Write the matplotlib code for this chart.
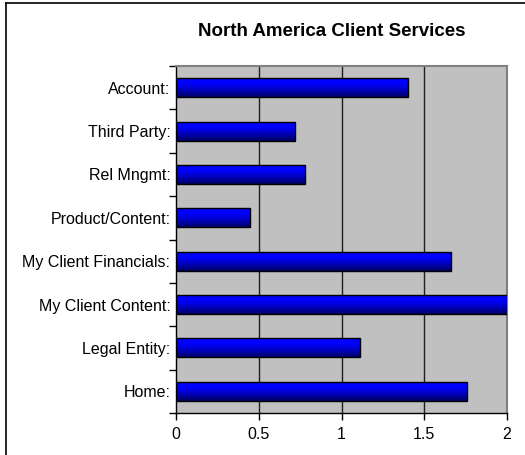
import matplotlib
matplotlib.use("Agg")
import matplotlib.pyplot as plt
import numpy as np
from matplotlib.lines import Line2D

plt.rcParams['font.family'] = ['Liberation Sans', 'DejaVu Sans']

# categories listed bottom to top
categories = ['Home:', 'Legal Entity:', 'My Client Content:', 'My Client Financials:',
              'Product/Content:', 'Rel Mngmt:', 'Third Party:', 'Account:']
values = [1.76, 1.11, 2.0, 1.66, 0.45, 0.78, 0.72, 1.40]
xticks = [0, 0.5, 1, 1.5, 2]
xticklabels = ['0', '0.5', '1', '1.5', '2']

W, H = 525, 455
fig = plt.figure(figsize=(W / 100, H / 100), dpi=100)
ax = fig.add_axes([176 / W, 1 - 413 / H, (507 - 176) / W, (413 - 66) / H])
ax.set_facecolor('#c0c0c0')

bar_h = 0.44
ypos = np.arange(len(categories))

# vertical gradient built from thin horizontal strips:
# bright blue over the upper part, darkening to navy at the bottom
n_strips = 24
t = (np.arange(n_strips) + 0.5) / n_strips          # 0 = top, 1 = bottom
shade = np.clip((t - 0.25) / 0.75, 0, 1) ** 1.2
strip_h = bar_h / n_strips

for y, v in zip(ypos, values):
    for k in range(n_strips):
        yc = y + bar_h / 2 - (k + 0.5) * strip_h
        ax.barh(yc, v, height=strip_h * 1.02, color=(0, 0, 1.0 - 0.62 * shade[k]),
                linewidth=0, zorder=3)
    ax.barh(y, v, height=bar_h, facecolor='none', edgecolor='black',
            linewidth=1.0, zorder=4)
ax.set_xlim(0, 2)
ax.set_ylim(-0.5, len(categories) - 0.5)

for x in xticks[1:-1]:
    ax.axvline(x, color='#202020', linewidth=1.0, zorder=1)

ax.set_xticks(xticks)
ax.set_xticklabels(xticklabels, fontsize=11.5)
ax.set_yticks(ypos)
ax.set_yticklabels(categories, fontsize=11.5)
ax.set_yticks(np.arange(-0.5, len(categories), 1), minor=True)
ax.tick_params(axis='y', which='major', length=0, pad=4)
ax.tick_params(axis='y', which='minor', length=5, width=1)
ax.tick_params(axis='x', length=5, width=1, pad=5)

for s in ['left', 'bottom']:
    ax.spines[s].set_color('black')
    ax.spines[s].set_linewidth(1.0)
for s in ['top', 'right']:
    ax.spines[s].set_color('#808080')
    ax.spines[s].set_linewidth(1.5)

fig.text(332 / W, 1 - 32 / H, 'North America Client Services', ha='center',
         va='center', fontsize=13.5, fontweight='bold')

# outer frame (left and top edges)
fig.add_artist(Line2D([6 / W, 6 / W], [0, 1 - 3 / H], transform=fig.transFigure,
                      color='black', linewidth=1.2))
fig.add_artist(Line2D([6 / W, 1], [1 - 3 / H, 1 - 3 / H], transform=fig.transFigure,
                      color='black', linewidth=1.2))

fig.savefig('out.png', dpi=100)
